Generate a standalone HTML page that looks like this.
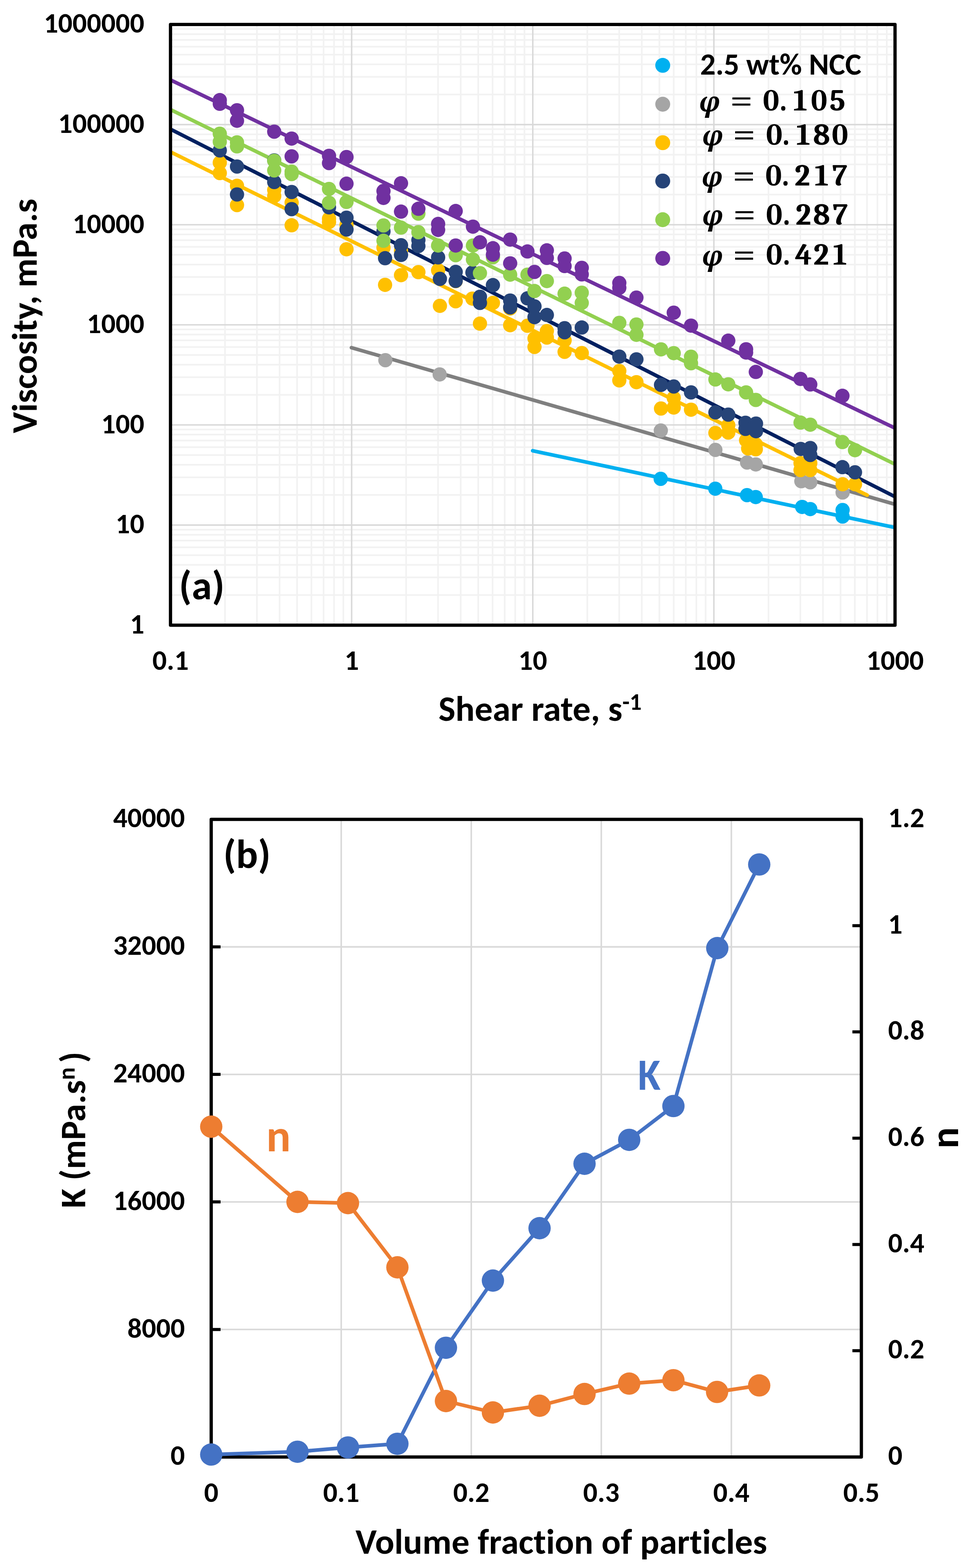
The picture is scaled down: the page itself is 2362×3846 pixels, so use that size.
<!DOCTYPE html><html><head><meta charset="utf-8"><title>Viscosity and power-law parameters</title>
<style>html,body{margin:0;padding:0;background:#fff;}svg{display:block;}.t{font-family:"Carlito","Liberation Sans",sans-serif;font-weight:700;fill:#000;font-variant-ligatures:none;font-feature-settings:"liga" 0,"clig" 0;}.m{font-family:"Caladea","Liberation Serif",serif;font-weight:700;fill:#000;}.p{font-family:"Noto Serif","DejaVu Serif","Liberation Serif",serif;font-weight:700;font-style:italic;fill:#000;}.q{font-family:"STIX Two Math","DejaVu Serif","Liberation Serif",serif;font-weight:400;fill:#000;}</style></head><body>
<svg width="2362" height="3846" viewBox="0 0 2362 3846">
<rect x="0" y="0" width="2362" height="3846" fill="#fff"/>
<path d="M551.9 60.0V1533.5M630.2 60.0V1533.5M685.7 60.0V1533.5M728.7 60.0V1533.5M763.9 60.0V1533.5M793.7 60.0V1533.5M819.4 60.0V1533.5M842.1 60.0V1533.5M996.2 60.0V1533.5M1074.4 60.0V1533.5M1130.0 60.0V1533.5M1173.0 60.0V1533.5M1208.2 60.0V1533.5M1237.9 60.0V1533.5M1263.7 60.0V1533.5M1286.4 60.0V1533.5M1440.5 60.0V1533.5M1518.7 60.0V1533.5M1574.2 60.0V1533.5M1617.3 60.0V1533.5M1652.5 60.0V1533.5M1682.2 60.0V1533.5M1708.0 60.0V1533.5M1730.7 60.0V1533.5M1884.8 60.0V1533.5M1963.0 60.0V1533.5M2018.5 60.0V1533.5M2061.6 60.0V1533.5M2096.7 60.0V1533.5M2126.5 60.0V1533.5M2152.2 60.0V1533.5M2175.0 60.0V1533.5M418.2 1459.6H2195.3M418.2 1416.3H2195.3M418.2 1385.6H2195.3M418.2 1361.8H2195.3M418.2 1342.4H2195.3M418.2 1326.0H2195.3M418.2 1311.7H2195.3M418.2 1299.2H2195.3M418.2 1214.0H2195.3M418.2 1170.7H2195.3M418.2 1140.1H2195.3M418.2 1116.3H2195.3M418.2 1096.8H2195.3M418.2 1080.4H2195.3M418.2 1066.1H2195.3M418.2 1053.6H2195.3M418.2 968.4H2195.3M418.2 925.2H2195.3M418.2 894.5H2195.3M418.2 870.7H2195.3M418.2 851.2H2195.3M418.2 834.8H2195.3M418.2 820.5H2195.3M418.2 808.0H2195.3M418.2 722.8H2195.3M418.2 679.6H2195.3M418.2 648.9H2195.3M418.2 625.1H2195.3M418.2 605.6H2195.3M418.2 589.2H2195.3M418.2 575.0H2195.3M418.2 562.4H2195.3M418.2 477.2H2195.3M418.2 434.0H2195.3M418.2 403.3H2195.3M418.2 379.5H2195.3M418.2 360.1H2195.3M418.2 343.6H2195.3M418.2 329.4H2195.3M418.2 316.8H2195.3M418.2 231.7H2195.3M418.2 188.4H2195.3M418.2 157.7H2195.3M418.2 133.9H2195.3M418.2 114.5H2195.3M418.2 98.0H2195.3M418.2 83.8H2195.3M418.2 71.2H2195.3" stroke="#F2F2F2" stroke-width="4" fill="none"/>
<path d="M862.5 60.0V1533.5M1306.8 60.0V1533.5M1751.0 60.0V1533.5M418.2 1287.9H2195.3M418.2 1042.3H2195.3M418.2 796.8H2195.3M418.2 551.2H2195.3M418.2 305.6H2195.3" stroke="#D9D9D9" stroke-width="3.6" fill="none"/>
<defs><clipPath id="ca"><rect x="418.2" y="60.0" width="1777.1000000000001" height="1473.5"/></clipPath></defs>
<g clip-path="url(#ca)" fill="none" stroke-width="9" stroke-linecap="round">
<line x1="1306.5" y1="1105.6" x2="2196" y2="1294.2" stroke="#00B0F0"/>
<line x1="862.0" y1="852.7" x2="2196" y2="1237.3" stroke="#7F7F7F"/>
<line x1="414.0" y1="370.6" x2="2127.0" y2="1214.6" stroke="#FFC000"/>
<line x1="414.0" y1="314.8" x2="2196" y2="1218.7" stroke="#002060"/>
<line x1="414.0" y1="266.7" x2="2196" y2="1139.0" stroke="#92D050"/>
<line x1="414.0" y1="194.0" x2="2196" y2="1050.5" stroke="#7030A0"/>
</g>
<g fill="#00B0F0"><circle cx="1620.5" cy="1174.5" r="17.5"/><circle cx="1754.4" cy="1198.7" r="17.5"/><circle cx="1832.2" cy="1214.5" r="17.5"/><circle cx="1853.6" cy="1219.2" r="17.5"/><circle cx="1967.5" cy="1243.4" r="17.5"/><circle cx="1987.4" cy="1248.7" r="17.5"/><circle cx="2066.7" cy="1251" r="17.5"/><circle cx="2066.7" cy="1267" r="17.5"/></g>
<g fill="#A5A5A5"><circle cx="945.2" cy="883.5" r="17.5"/><circle cx="1078.4" cy="918.4" r="17.5"/><circle cx="1620.8" cy="1056" r="17.5"/><circle cx="1754.6" cy="1103.5" r="17.5"/><circle cx="1832.4" cy="1134.5" r="17.5"/><circle cx="1853.8" cy="1139.2" r="17.5"/><circle cx="1965.5" cy="1180.3" r="17.5"/><circle cx="1987.4" cy="1183" r="17.5"/><circle cx="2066.7" cy="1208" r="17.5"/></g>
<g fill="#FFC000"><circle cx="539.1" cy="399" r="17.5"/><circle cx="539.1" cy="424.5" r="17.5"/><circle cx="581.3" cy="455.7" r="17.5"/><circle cx="581.3" cy="503" r="17.5"/><circle cx="672.6" cy="466" r="17.5"/><circle cx="672.6" cy="481" r="17.5"/><circle cx="715.3" cy="497" r="17.5"/><circle cx="715.3" cy="552.6" r="17.5"/><circle cx="807" cy="536.5" r="17.5"/><circle cx="807" cy="544.5" r="17.5"/><circle cx="849.9" cy="551.8" r="17.5"/><circle cx="849.9" cy="611.4" r="17.5"/><circle cx="940.6" cy="607.5" r="17.5"/><circle cx="944.5" cy="698.7" r="17.5"/><circle cx="983.6" cy="615" r="17.5"/><circle cx="983.6" cy="674.9" r="17.5"/><circle cx="1026.2" cy="667.5" r="17.5"/><circle cx="1074.6" cy="663" r="17.5"/><circle cx="1079" cy="750.2" r="17.5"/><circle cx="1117.7" cy="689.5" r="17.5"/><circle cx="1117.7" cy="739" r="17.5"/><circle cx="1158.7" cy="732.4" r="17.5"/><circle cx="1177.2" cy="793.8" r="17.5"/><circle cx="1209" cy="743" r="17.5"/><circle cx="1251.3" cy="756.5" r="17.5"/><circle cx="1251.3" cy="797.7" r="17.5"/><circle cx="1293.7" cy="799" r="17.5"/><circle cx="1311" cy="830" r="17.5"/><circle cx="1311" cy="851" r="17.5"/><circle cx="1341.3" cy="812" r="17.5"/><circle cx="1341.3" cy="828" r="17.5"/><circle cx="1384.8" cy="835" r="17.5"/><circle cx="1384.8" cy="863" r="17.5"/><circle cx="1426.9" cy="866" r="17.5"/><circle cx="1519" cy="910" r="17.5"/><circle cx="1519" cy="933" r="17.5"/><circle cx="1561" cy="937.4" r="17.5"/><circle cx="1621.3" cy="1002" r="17.5"/><circle cx="1652.5" cy="975.8" r="17.5"/><circle cx="1652.5" cy="999.6" r="17.5"/><circle cx="1694.9" cy="1004.9" r="17.5"/><circle cx="1754.7" cy="1062" r="17.5"/><circle cx="1786.3" cy="1043" r="17.5"/><circle cx="1786.3" cy="1061" r="17.5"/><circle cx="1830" cy="1080" r="17.5"/><circle cx="1853.8" cy="1090" r="17.5"/><circle cx="1835" cy="1100" r="17.5"/><circle cx="1853.8" cy="1102" r="17.5"/><circle cx="1963.5" cy="1136" r="17.5"/><circle cx="1987.4" cy="1136" r="17.5"/><circle cx="1963.5" cy="1153" r="17.5"/><circle cx="1987.4" cy="1153" r="17.5"/><circle cx="2066.7" cy="1187.8" r="17.5"/><circle cx="2097.1" cy="1187.8" r="17.5"/></g>
<g fill="#264478"><circle cx="539.1" cy="369" r="17.5"/><circle cx="581.3" cy="408.5" r="17.5"/><circle cx="581.3" cy="477" r="17.5"/><circle cx="672.6" cy="393.5" r="17.5"/><circle cx="672.6" cy="446.5" r="17.5"/><circle cx="715.3" cy="471" r="17.5"/><circle cx="715.3" cy="513" r="17.5"/><circle cx="807" cy="508.6" r="17.5"/><circle cx="849.9" cy="534" r="17.5"/><circle cx="849.9" cy="563" r="17.5"/><circle cx="940.6" cy="567.8" r="17.5"/><circle cx="944.5" cy="633.3" r="17.5"/><circle cx="983.6" cy="601.5" r="17.5"/><circle cx="983.6" cy="625.3" r="17.5"/><circle cx="1026.2" cy="589" r="17.5"/><circle cx="1026.2" cy="603.5" r="17.5"/><circle cx="1074.6" cy="631.3" r="17.5"/><circle cx="1079" cy="684" r="17.5"/><circle cx="1117.7" cy="667" r="17.5"/><circle cx="1117.7" cy="689" r="17.5"/><circle cx="1158.7" cy="668.4" r="17.5"/><circle cx="1177.2" cy="728" r="17.5"/><circle cx="1177.2" cy="743" r="17.5"/><circle cx="1209" cy="699.3" r="17.5"/><circle cx="1251.3" cy="737.2" r="17.5"/><circle cx="1251.3" cy="754" r="17.5"/><circle cx="1293.7" cy="731.8" r="17.5"/><circle cx="1311" cy="751.4" r="17.5"/><circle cx="1311" cy="777.9" r="17.5"/><circle cx="1341.3" cy="772.6" r="17.5"/><circle cx="1384.8" cy="805" r="17.5"/><circle cx="1384.8" cy="815" r="17.5"/><circle cx="1426.9" cy="803.3" r="17.5"/><circle cx="1519" cy="874.7" r="17.5"/><circle cx="1561" cy="881.4" r="17.5"/><circle cx="1621.3" cy="944" r="17.5"/><circle cx="1652.5" cy="948" r="17.5"/><circle cx="1694.9" cy="962.5" r="17.5"/><circle cx="1754.7" cy="1011.5" r="17.5"/><circle cx="1786.3" cy="1017" r="17.5"/><circle cx="1828.5" cy="1037" r="17.5"/><circle cx="1854.3" cy="1039" r="17.5"/><circle cx="1828.5" cy="1052" r="17.5"/><circle cx="1854.3" cy="1057.7" r="17.5"/><circle cx="1964" cy="1101.2" r="17.5"/><circle cx="1987.4" cy="1099" r="17.5"/><circle cx="1987.4" cy="1116" r="17.5"/><circle cx="2066.3" cy="1145.8" r="17.5"/><circle cx="2097.1" cy="1158.5" r="17.5"/></g>
<g fill="#92D050"><circle cx="539.1" cy="328" r="17.5"/><circle cx="539.1" cy="347.8" r="17.5"/><circle cx="581.3" cy="349.2" r="17.5"/><circle cx="581.3" cy="359.1" r="17.5"/><circle cx="672.6" cy="394.4" r="17.5"/><circle cx="672.6" cy="418" r="17.5"/><circle cx="715.3" cy="421" r="17.5"/><circle cx="715.3" cy="427" r="17.5"/><circle cx="807" cy="463.5" r="17.5"/><circle cx="807" cy="497.3" r="17.5"/><circle cx="849.9" cy="495.3" r="17.5"/><circle cx="940.6" cy="553" r="17.5"/><circle cx="940.6" cy="590.6" r="17.5"/><circle cx="983.6" cy="558.3" r="17.5"/><circle cx="1026.2" cy="524" r="17.5"/><circle cx="1026.2" cy="569.5" r="17.5"/><circle cx="1074.6" cy="602.2" r="17.5"/><circle cx="1117.7" cy="626" r="17.5"/><circle cx="1160" cy="602.2" r="17.5"/><circle cx="1160" cy="636.6" r="17.5"/><circle cx="1177.2" cy="670" r="17.5"/><circle cx="1209" cy="631" r="17.5"/><circle cx="1251.3" cy="673.7" r="17.5"/><circle cx="1293.7" cy="673.7" r="17.5"/><circle cx="1311" cy="713.8" r="17.5"/><circle cx="1341.3" cy="689.4" r="17.5"/><circle cx="1384.8" cy="720.3" r="17.5"/><circle cx="1426.9" cy="718" r="17.5"/><circle cx="1426.9" cy="743" r="17.5"/><circle cx="1519" cy="792" r="17.5"/><circle cx="1561" cy="795.9" r="17.5"/><circle cx="1561" cy="821.2" r="17.5"/><circle cx="1621.3" cy="856.9" r="17.5"/><circle cx="1652.5" cy="866.2" r="17.5"/><circle cx="1694.9" cy="875" r="17.5"/><circle cx="1694.9" cy="891" r="17.5"/><circle cx="1754.7" cy="930.8" r="17.5"/><circle cx="1786.3" cy="942.7" r="17.5"/><circle cx="1830" cy="962.5" r="17.5"/><circle cx="1853.8" cy="981" r="17.5"/><circle cx="1963.5" cy="1036.6" r="17.5"/><circle cx="1987.4" cy="1041.7" r="17.5"/><circle cx="2066.3" cy="1084.3" r="17.5"/><circle cx="2097.1" cy="1104.2" r="17.5"/></g>
<g fill="#7030A0"><circle cx="539.1" cy="245.6" r="17.5"/><circle cx="539.1" cy="254.6" r="17.5"/><circle cx="581.3" cy="270.4" r="17.5"/><circle cx="581.3" cy="296.2" r="17.5"/><circle cx="672.6" cy="323" r="17.5"/><circle cx="715.3" cy="339.9" r="17.5"/><circle cx="715.3" cy="383.5" r="17.5"/><circle cx="807" cy="382.2" r="17.5"/><circle cx="807" cy="400" r="17.5"/><circle cx="849.9" cy="385.2" r="17.5"/><circle cx="849.9" cy="450.6" r="17.5"/><circle cx="940.6" cy="468.5" r="17.5"/><circle cx="940.6" cy="485.4" r="17.5"/><circle cx="983.6" cy="449.6" r="17.5"/><circle cx="983.6" cy="519.1" r="17.5"/><circle cx="1026.2" cy="512.1" r="17.5"/><circle cx="1074.6" cy="549.3" r="17.5"/><circle cx="1074.6" cy="563.9" r="17.5"/><circle cx="1117.7" cy="517.6" r="17.5"/><circle cx="1117.7" cy="602.2" r="17.5"/><circle cx="1160" cy="555.9" r="17.5"/><circle cx="1177.2" cy="594.3" r="17.5"/><circle cx="1209" cy="608.8" r="17.5"/><circle cx="1209" cy="624.7" r="17.5"/><circle cx="1251.3" cy="587.7" r="17.5"/><circle cx="1251.3" cy="645.9" r="17.5"/><circle cx="1293.7" cy="616.8" r="17.5"/><circle cx="1311" cy="667" r="17.5"/><circle cx="1341.3" cy="614.1" r="17.5"/><circle cx="1341.3" cy="632.6" r="17.5"/><circle cx="1384.8" cy="634" r="17.5"/><circle cx="1384.8" cy="652.6" r="17.5"/><circle cx="1426.9" cy="657" r="17.5"/><circle cx="1426.9" cy="673" r="17.5"/><circle cx="1519" cy="694" r="17.5"/><circle cx="1519" cy="706" r="17.5"/><circle cx="1561" cy="730" r="17.5"/><circle cx="1652.5" cy="767" r="17.5"/><circle cx="1694.9" cy="798.7" r="17.5"/><circle cx="1786.3" cy="835.6" r="17.5"/><circle cx="1830" cy="856.7" r="17.5"/><circle cx="1830" cy="864.7" r="17.5"/><circle cx="1853.8" cy="912.3" r="17.5"/><circle cx="1963.3" cy="929.4" r="17.5"/><circle cx="1987.4" cy="943" r="17.5"/><circle cx="2066.3" cy="970.8" r="17.5"/></g>
<rect x="418.2" y="60.0" width="1777.1" height="1473.5" fill="none" stroke="#000" stroke-width="8" stroke-linejoin="round"/>
<text class="t" x="354" y="1553.8" font-size="69.5" text-anchor="end">1</text>
<text class="t" x="354" y="1308.2" font-size="69.5" text-anchor="end" textLength="70.5" lengthAdjust="spacingAndGlyphs">10</text>
<text class="t" x="354" y="1062.6" font-size="69.5" text-anchor="end" textLength="105.7" lengthAdjust="spacingAndGlyphs">100</text>
<text class="t" x="354" y="817.0" font-size="69.5" text-anchor="end" textLength="140.9" lengthAdjust="spacingAndGlyphs">1000</text>
<text class="t" x="354" y="571.5" font-size="69.5" text-anchor="end" textLength="176.1" lengthAdjust="spacingAndGlyphs">10000</text>
<text class="t" x="354" y="325.9" font-size="69.5" text-anchor="end" textLength="211.4" lengthAdjust="spacingAndGlyphs">100000</text>
<text class="t" x="354" y="80.3" font-size="69.5" text-anchor="end" textLength="246.6" lengthAdjust="spacingAndGlyphs">1000000</text>
<text class="t" x="418.2" y="1643.3" font-size="69.5" text-anchor="middle" textLength="89.0" lengthAdjust="spacingAndGlyphs">0.1</text>
<text class="t" x="862.5" y="1643.3" font-size="69.5" text-anchor="middle">1</text>
<text class="t" x="1306.8" y="1643.3" font-size="69.5" text-anchor="middle" textLength="70.5" lengthAdjust="spacingAndGlyphs">10</text>
<text class="t" x="1751.0" y="1643.3" font-size="69.5" text-anchor="middle" textLength="105.7" lengthAdjust="spacingAndGlyphs">100</text>
<text class="t" x="2195.3" y="1643.3" font-size="69.5" text-anchor="middle" textLength="140.9" lengthAdjust="spacingAndGlyphs">1000</text>
<text class="t" x="1075.5" y="1767.6" font-size="88" textLength="451.1" lengthAdjust="spacingAndGlyphs">Shear rate, s</text>
<text class="t" x="1526.6" y="1740.8" font-size="58" textLength="47.2" lengthAdjust="spacingAndGlyphs">-1</text>
<text class="t" transform="translate(89.6,1062.5) rotate(-90)" x="0" y="0" font-size="87.7" textLength="575.3" lengthAdjust="spacingAndGlyphs">Viscosity, mPa.s</text>
<text class="t" x="439.1" y="1469.6" font-size="100" textLength="111.7" lengthAdjust="spacingAndGlyphs">(a)</text>
<circle cx="1625.5" cy="160.3" r="18.3" fill="#00B0F0"/>
<circle cx="1625.5" cy="255.6" r="18.3" fill="#A5A5A5"/>
<circle cx="1625.5" cy="350.0" r="18.3" fill="#FFC000"/>
<circle cx="1625.5" cy="444.0" r="18.3" fill="#264478"/>
<circle cx="1625.5" cy="538.9" r="18.3" fill="#92D050"/>
<circle cx="1625.5" cy="633.7" r="18.3" fill="#7030A0"/>
<text class="t" x="1717.2" y="183.4" font-size="75" textLength="395.5" lengthAdjust="spacingAndGlyphs">2.5 wt% NCC</text>
<text class="p" x="1714.6" y="272.5" font-size="67">φ</text>
<text class="q" x="1791.8" y="267.8" font-size="74">=</text>
<text class="m" x="1871.2 1912.5 1945.7 1989.0 2034.5" y="271.0" font-size="75">0.105</text>
<text class="p" x="1722.0" y="356.1" font-size="67">φ</text>
<text class="q" x="1798.6" y="351.4" font-size="74">=</text>
<text class="m" x="1878.9 1919.2 1953.0 1994.3 2040.3" y="354.6" font-size="75">0.180</text>
<text class="p" x="1720.7" y="456.7" font-size="67">φ</text>
<text class="q" x="1797.9" y="452.0" font-size="74">=</text>
<text class="m" x="1877.6 1917.9 1949.0 1997.9 2041.3" y="455.2" font-size="75">0.217</text>
<text class="p" x="1722.0" y="552.0" font-size="67">φ</text>
<text class="q" x="1799.2" y="547.3" font-size="74">=</text>
<text class="m" x="1878.9 1920.5 1951.6 1994.3 2042.6" y="550.5" font-size="75">0.287</text>
<text class="p" x="1721.5" y="650.9" font-size="67">φ</text>
<text class="q" x="1798.6" y="646.2" font-size="74">=</text>
<text class="m" x="1878.9 1920.5 1950.0 1995.3 2042.9" y="649.4" font-size="75">0.421</text>
<path d="M836.9 2009.7V3573.7M1155.9 2009.7V3573.7M1474.8 2009.7V3573.7M1793.8 2009.7V3573.7M518.0 3260.9H2112.7M518.0 2948.1H2112.7M518.0 2635.3H2112.7M518.0 2322.5H2112.7" stroke="#D9D9D9" stroke-width="3.8" fill="none"/>
<rect x="518.0" y="2009.7" width="1594.7" height="1564.0" fill="none" stroke="#000" stroke-width="8" stroke-linejoin="round"/>
<path d="M518.0 3260.9H541.0M518.0 2948.1H541.0M518.0 2635.3H541.0M518.0 2322.5H541.0M2112.7 3313.0H2090.7M2112.7 3052.4H2090.7M2112.7 2791.7H2090.7M2112.7 2531.0H2090.7M2112.7 2270.4H2090.7" stroke="#000" stroke-width="7.5" fill="none"/>
<polyline points="518.1,3567.7 729.7,3560.8 853.5,3550.3 974.7,3541.3 1093.8,3305.8 1209.0,3141.0 1323.4,3012.5 1433.7,2854.5 1543.3,2795.8 1651.7,2712.9 1759.3,2325.5 1862.2,2120.4" fill="none" stroke="#4472C4" stroke-width="9" stroke-linejoin="round"/>
<g fill="#4472C4"><circle cx="518.1" cy="3567.7" r="27.4"/><circle cx="729.7" cy="3560.8" r="27.4"/><circle cx="853.5" cy="3550.3" r="27.4"/><circle cx="974.7" cy="3541.3" r="27.4"/><circle cx="1093.8" cy="3305.8" r="27.4"/><circle cx="1209.0" cy="3141.0" r="27.4"/><circle cx="1323.4" cy="3012.5" r="27.4"/><circle cx="1433.7" cy="2854.5" r="27.4"/><circle cx="1543.3" cy="2795.8" r="27.4"/><circle cx="1651.7" cy="2712.9" r="27.4"/><circle cx="1759.3" cy="2325.5" r="27.4"/><circle cx="1862.2" cy="2120.4" r="27.4"/></g>
<polyline points="518.1,2763.5 729.7,2948.0 853.5,2951.0 974.7,3108.5 1093.8,3436.5 1209.0,3464.5 1323.4,3448.0 1433.7,3419.2 1543.3,3393.7 1651.7,3385.4 1758.8,3414.1 1862.1,3398.2" fill="none" stroke="#ED7D31" stroke-width="9" stroke-linejoin="round"/>
<g fill="#ED7D31"><circle cx="518.1" cy="2763.5" r="27.4"/><circle cx="729.7" cy="2948.0" r="27.4"/><circle cx="853.5" cy="2951.0" r="27.4"/><circle cx="974.7" cy="3108.5" r="27.4"/><circle cx="1093.8" cy="3436.5" r="27.4"/><circle cx="1209.0" cy="3464.5" r="27.4"/><circle cx="1323.4" cy="3448.0" r="27.4"/><circle cx="1433.7" cy="3419.2" r="27.4"/><circle cx="1543.3" cy="3393.7" r="27.4"/><circle cx="1651.7" cy="3385.4" r="27.4"/><circle cx="1758.8" cy="3414.1" r="27.4"/><circle cx="1862.1" cy="3398.2" r="27.4"/></g>
<text class="t" x="453.5" y="3593.3" font-size="69.5" text-anchor="end">0</text>
<text class="t" x="453.5" y="3280.5" font-size="69.5" text-anchor="end" textLength="140.9" lengthAdjust="spacingAndGlyphs">8000</text>
<text class="t" x="453.5" y="2967.7" font-size="69.5" text-anchor="end" textLength="176.1" lengthAdjust="spacingAndGlyphs">16000</text>
<text class="t" x="453.5" y="2654.9" font-size="69.5" text-anchor="end" textLength="176.1" lengthAdjust="spacingAndGlyphs">24000</text>
<text class="t" x="453.5" y="2342.1" font-size="69.5" text-anchor="end" textLength="176.1" lengthAdjust="spacingAndGlyphs">32000</text>
<text class="t" x="453.5" y="2029.3" font-size="69.5" text-anchor="end" textLength="176.1" lengthAdjust="spacingAndGlyphs">40000</text>
<text class="t" x="2178.3" y="3593.1" font-size="69.5">0</text>
<text class="t" x="2178.3" y="3332.4" font-size="69.5" textLength="89.0" lengthAdjust="spacingAndGlyphs">0.2</text>
<text class="t" x="2178.3" y="3071.8" font-size="69.5" textLength="89.0" lengthAdjust="spacingAndGlyphs">0.4</text>
<text class="t" x="2178.3" y="2811.1" font-size="69.5" textLength="89.0" lengthAdjust="spacingAndGlyphs">0.6</text>
<text class="t" x="2178.3" y="2550.4" font-size="69.5" textLength="89.0" lengthAdjust="spacingAndGlyphs">0.8</text>
<text class="t" x="2178.3" y="2289.8" font-size="69.5">1</text>
<text class="t" x="2178.3" y="2029.1" font-size="69.5" textLength="89.0" lengthAdjust="spacingAndGlyphs">1.2</text>
<text class="t" x="518.0" y="3684" font-size="69.5" text-anchor="middle">0</text>
<text class="t" x="836.9" y="3684" font-size="69.5" text-anchor="middle" textLength="89.0" lengthAdjust="spacingAndGlyphs">0.1</text>
<text class="t" x="1155.9" y="3684" font-size="69.5" text-anchor="middle" textLength="89.0" lengthAdjust="spacingAndGlyphs">0.2</text>
<text class="t" x="1474.8" y="3684" font-size="69.5" text-anchor="middle" textLength="89.0" lengthAdjust="spacingAndGlyphs">0.3</text>
<text class="t" x="1793.8" y="3684" font-size="69.5" text-anchor="middle" textLength="89.0" lengthAdjust="spacingAndGlyphs">0.4</text>
<text class="t" x="2112.7" y="3684" font-size="69.5" text-anchor="middle" textLength="89.0" lengthAdjust="spacingAndGlyphs">0.5</text>
<text class="t" x="872" y="3810.6" font-size="87.9" textLength="1009.6" lengthAdjust="spacingAndGlyphs">Volume fraction of particles</text>
<g transform="translate(209.2,2963.3) rotate(-90)"><text class="t" x="0" y="0" font-size="88" textLength="314.2" lengthAdjust="spacingAndGlyphs">K (mPa.s</text><text class="t" x="314.2" y="-26.4" font-size="58">n</text><text class="t" x="356.3" y="0" font-size="88">)</text></g>
<text class="t" transform="translate(2350,2791) rotate(-90)" x="0" y="0" font-size="97" text-anchor="middle">n</text>
<text class="t" x="547.8" y="2129.2" font-size="100" textLength="116.0" lengthAdjust="spacingAndGlyphs">(b)</text>
<text class="t" transform="translate(1564.6,2673) scale(0.93,1)" x="0" y="0" font-size="109.5" style="fill:#4472C4">K</text>
<text class="t" x="653.1" y="2823.8" font-size="112" style="fill:#ED7D31">n</text>
</svg></body></html>
